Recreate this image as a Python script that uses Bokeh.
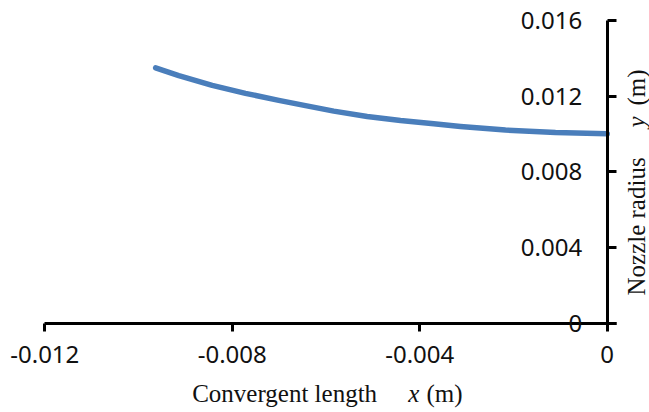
import math
from bokeh.plotting import figure
from bokeh.models import LinearAxis, FixedTicker, Label
from bokeh.embed import file_html
from bokeh.resources import INLINE

# data
x_len = [-0.009635, -0.009141, -0.008428, -0.007718, -0.007007, -0.006437, -0.005834,
         -0.005121, -0.004410, -0.003700, -0.003130, -0.002170, -0.001103, 0.0]
y_rad = [0.01350, 0.01309, 0.01257, 0.01215, 0.01178, 0.01150, 0.01121,
         0.01093, 0.01071, 0.01054, 0.01040, 0.01021, 0.01008, 0.01001]

x_ticks = [-0.012, -0.008, -0.004, 0.0]
x_tick_labels = ["-0.012", "-0.008", "-0.004", "0"]
y_ticks = [0.0, 0.004, 0.008, 0.012, 0.016]
y_tick_labels = ["0", "0.004", "0.008", "0.012", "0.016"]

x_title_parts = ["Convergent length", "x", "(m)"]
y_title_parts = ["Nozzle radius", "y", "(m)"]

TICK_FONT = "Noto Sans"
TITLE_FONT = "Liberation Serif"

# frame covers the whole canvas; axes are placed at x=0 / y=0
p = figure(width=649, height=412, x_range=(-0.012945, 0.000903), y_range=(-0.00472, 0.017057),
           output_backend="svg", toolbar_location=None,
           x_axis_location=None, y_axis_location=None, min_border=0)
p.grid.visible = False
p.outline_line_color = None
p.background_fill_color = "white"
p.border_fill_color = "white"

p.line(x_len, y_rad, line_color="#4a7ebb", line_width=5.5, line_cap="round", line_join="round")

# x axis along y = 0
xa = LinearAxis(ticker=FixedTicker(ticks=x_ticks), fixed_location=0, bounds=(-0.012, 0.0002),
                major_label_overrides={t: l for t, l in zip(x_ticks, x_tick_labels)})
xa.axis_line_width = 3
xa.major_tick_line_width = 3
xa.major_tick_out = 8
xa.major_tick_in = 0
xa.minor_tick_line_color = None
xa.major_label_text_font = TICK_FONT
xa.major_label_text_font_size = "24px"
xa.major_label_text_color = "#111111"
xa.major_label_standoff = 15
p.add_layout(xa, "below")

# y axis along x = 0
ya = LinearAxis(ticker=FixedTicker(ticks=y_ticks), fixed_location=0, bounds=(0, 0.016),
                major_label_overrides={t: l for t, l in zip(y_ticks, y_tick_labels)})
ya.axis_line_width = 3
ya.major_tick_line_width = 3
ya.major_tick_out = 0
ya.major_tick_in = 9
ya.minor_tick_line_color = None
ya.major_label_text_font = TICK_FONT
ya.major_label_text_font_size = "24px"
ya.major_label_text_color = "#111111"
ya.major_label_standoff = 25
p.add_layout(ya, "left")

# axis titles (mixed upright / italic pieces)
common = dict(text_font=TITLE_FONT, text_font_size="25px", text_color="#111111",
              text_align="left", text_baseline="middle")
xt_y = -0.003737
p.add_layout(Label(x=-0.008855, y=xt_y, text=x_title_parts[0], **common))
p.add_layout(Label(x=-0.004246, y=xt_y, text=x_title_parts[1], text_font_style="italic", **common))
p.add_layout(Label(x=-0.003856, y=xt_y, text=x_title_parts[2], **common))

yt_x = 0.000615
p.add_layout(Label(x=yt_x, y=0.001464, angle=math.pi / 2, text=y_title_parts[0], **common))
p.add_layout(Label(x=yt_x, y=0.010345, angle=math.pi / 2, text=y_title_parts[1],
                   text_font_style="italic", **common))
p.add_layout(Label(x=yt_x, y=0.011502, angle=math.pi / 2, text=y_title_parts[2], **common))

open("out.html", "w").write(file_html(p, INLINE))
